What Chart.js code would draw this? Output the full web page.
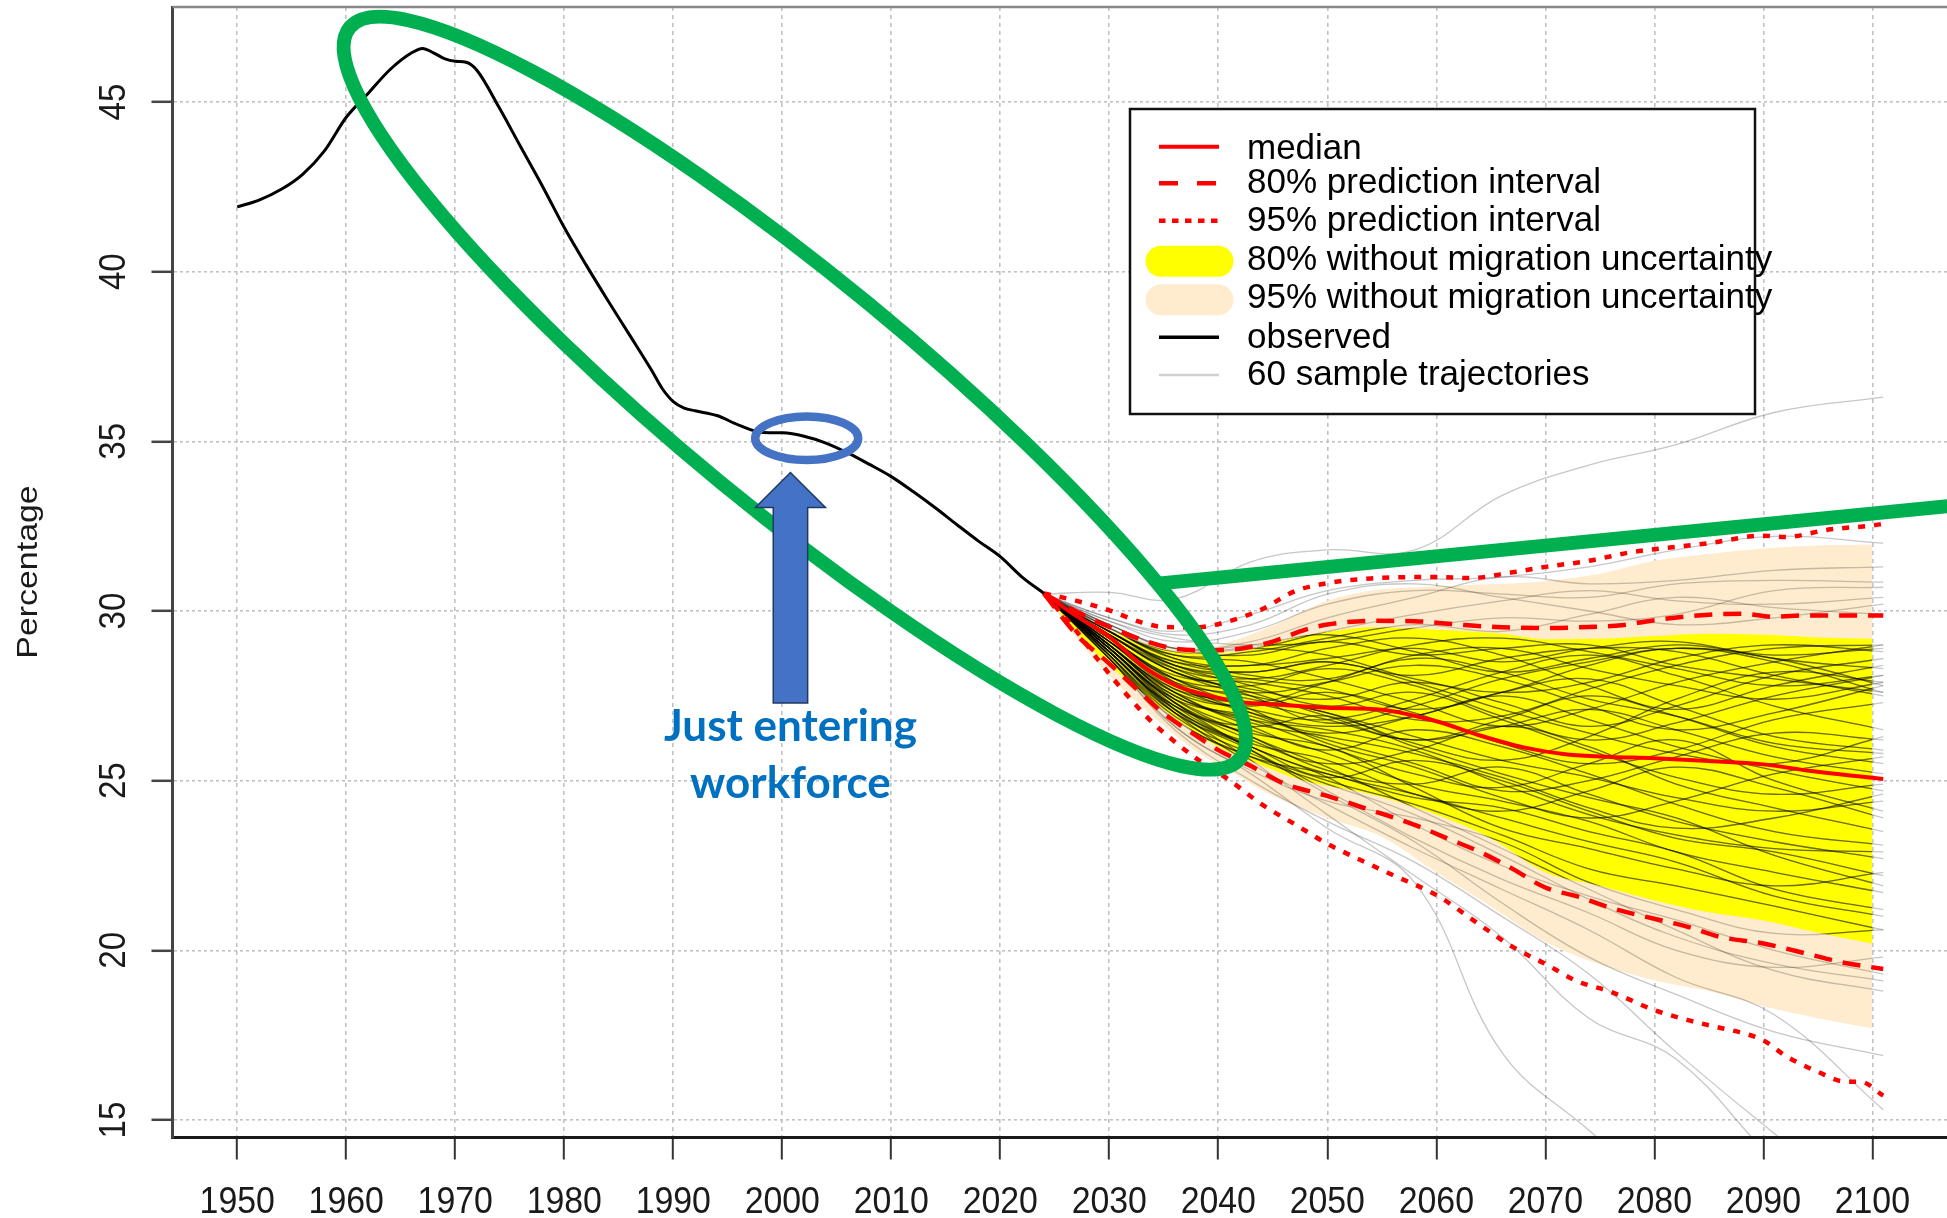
<!DOCTYPE html>
<html>
<head>
<meta charset="utf-8">
<title>Percentage just entering workforce</title>
<script src="https://cdn.jsdelivr.net/npm/chart.js@4.4.1/dist/chart.umd.min.js"></script>
<style>
  html, body { margin: 0; padding: 0; background: #fff; }
  #graphWorkforce { display: block; }
</style>
</head>
<body>
<canvas id="graphWorkforce" width="1947" height="1218"></canvas>
<script>
// ---- data ----
var xTicks = [1950,1960,1970,1980,1990,2000,2010,2020,2030,2040,2050,2060,2070,2080,2090,2100];
var yTicks = [15,20,25,30,35,40,45];

var obsYears  = [1950,1952,1954,1956,1958,1960,1962,1964,1966,1967,1968,1969,1970,1971,1972,1974,1976,1978,1980,1982,1984,1986,1988,1989,1990,1991,1992,1994,1996,1998,2000,2002,2004,2006,2008,2010,2012,2014,2016,2018,2020,2022,2024];
var obsValues = [41.91,42.11,42.42,42.87,43.56,44.55,45.25,45.95,46.45,46.58,46.45,46.28,46.2,46.17,45.93,44.85,43.68,42.52,41.3,40.2,39.15,38.13,37.1,36.55,36.17,35.98,35.9,35.76,35.48,35.27,35.25,35.15,34.95,34.66,34.32,33.96,33.52,33.05,32.55,32.06,31.6,31.0,30.52];

var medYears  = [2024,2027,2030,2033,2036,2038,2042,2046,2050,2055,2060,2064,2068,2072,2076,2080,2085,2090,2094,2098,2101];
var medValues = [30.52,29.85,29.24,28.4,27.82,27.6,27.32,27.23,27.15,27.09,26.75,26.33,25.98,25.77,25.7,25.66,25.58,25.48,25.3,25.15,25.05];

var pi80UpYears  = [2024,2027,2030,2033,2036,2039,2042,2045,2048,2050,2054,2058,2062,2066,2070,2074,2077,2080,2084,2088,2091,2094,2098,2101];
var pi80UpValues = [30.52,29.98,29.53,29.15,28.89,28.84,28.89,29.1,29.45,29.6,29.71,29.7,29.6,29.52,29.5,29.53,29.58,29.73,29.87,29.92,29.83,29.87,29.87,29.87];
var pi80LoYears  = [2024,2027,2030,2033,2035,2038,2040,2043,2046,2050,2054,2058,2061,2064,2067,2070,2073,2076,2080,2083,2086,2090,2094,2097,2101];
var pi80LoValues = [30.52,29.3,28.45,27.55,26.98,26.32,25.9,25.43,24.92,24.55,24.13,23.7,23.3,22.9,22.4,21.85,21.58,21.25,20.93,20.7,20.4,20.2,19.9,19.66,19.45];

var pi95UpYears  = [2024,2027,2030,2033,2035,2038,2041,2044,2047,2050,2054,2060,2063,2067,2070,2074,2078,2080,2085,2090,2092,2096,2100,2101];
var pi95UpValues = [30.52,30.3,30.02,29.66,29.53,29.52,29.7,30.05,30.58,30.82,30.96,31.0,30.97,31.14,31.3,31.48,31.74,31.82,32.0,32.22,32.18,32.4,32.52,32.57];
var pi95LoYears  = [2024,2027,2029,2031.5,2034,2036,2038,2041,2044,2047,2050,2053,2056,2060,2064,2067,2070,2073,2076,2080,2083,2086,2088,2090,2092,2095,2097.5,2099,2101];
var pi95LoValues = [30.52,29.4,28.55,27.57,26.7,26.15,25.65,25.02,24.3,23.72,23.14,22.67,22.22,21.63,20.75,20.1,19.6,19.08,18.78,18.24,17.95,17.72,17.57,17.35,16.9,16.42,16.13,16.12,15.72];

// "without migration uncertainty" bands
var wo80UpYears  = [2024,2028,2030,2033,2036,2039,2042,2044.5,2047.5,2050,2054,2060,2066,2070,2075,2080,2085,2090,2095,2100];
var wo80UpValues = [30.52,29.75,29.43,29.05,28.8,28.75,28.8,28.99,29.25,29.38,29.52,29.45,29.33,29.17,29.18,29.26,29.33,29.3,29.22,29.18];
var wo80LoYears  = [2024,2027,2030,2033,2036,2040,2044,2047.5,2050,2054,2060,2065,2070,2075,2080,2085,2090,2095,2100];
var wo80LoValues = [30.52,29.35,28.4,27.6,26.85,26.0,25.45,25.03,24.85,24.6,24.0,23.3,22.3,21.9,21.47,21.12,20.88,20.52,20.2];

var wo95UpYears  = [2024,2028,2032,2036,2039,2041.5,2044.5,2047.5,2050,2054,2060,2066,2070,2075,2080,2085,2090,2095,2100];
var wo95UpValues = [30.52,29.9,29.25,28.94,28.94,29.14,29.5,29.95,30.3,30.6,30.72,30.8,30.88,31.1,31.48,31.68,31.84,31.93,31.95];
var wo95LoYears  = [2024,2027,2030,2034,2038,2041,2044.5,2050,2055,2060,2065,2070,2075,2080,2085,2090,2095,2100];
var wo95LoValues = [30.52,29.2,28.1,26.9,25.85,25.3,24.63,23.9,23.35,22.3,21.3,20.25,19.58,19.12,18.8,18.35,18.0,17.7];

// 60 sample trajectories
var trajYears = [2024,2030,2036,2043,2050,2058,2066,2074,2082,2091,2101];
var trajectories = [
  [30.5,30.55,30.35,31.45,31.8,31.8,33.4,34.3,34.9,35.85,36.3],
  [30.5,29.8,29.4,29.9,30.6,30.9,31.0,31.3,31.8,32.2,32.0],
  [30.5,29.7,29.1,29.4,30.2,30.6,30.5,30.4,30.8,30.9,30.85],
  [30.5,29.6,28.9,28.9,29.4,29.9,30.3,30.6,30.3,30.2,30.4],
  [30.5,29.5,28.7,28.8,29.2,29.6,29.4,29.9,30.4,30.1,29.9],
  [30.5,29.8,29.3,29.6,30.5,30.8,30.4,30.0,29.6,29.8,30.2],
  [30.5,29.6,28.9,29.1,29.8,30.4,31.0,30.8,30.9,31.2,31.3],
  [30.5,29.7,29.2,29.0,29.1,29.5,29.8,29.7,29.9,30.6,30.7],
  [30.5,28.7,26.6,25.2,23.6,22.0,17.0,14.7,12.5,10.0,8.0],
  [30.5,28.9,27.1,25.6,24.0,22.2,20.4,18.0,16.8,13.8,11.0],
  [30.5,28.6,26.5,25.0,23.8,22.6,21.0,19.3,17.0,14.6,12.0],
  [30.5,28.8,27.0,25.5,24.3,23.0,21.8,20.6,19.2,18.1,15.3],
  [30.5,28.9,27.3,25.9,24.6,23.2,21.4,19.8,18.7,17.6,16.9],
  [30.5,28.7,26.8,25.7,24.9,24.0,22.8,21.5,20.4,19.6,19.1],
  [30.5,28.9,27.2,26.0,25.1,23.7,22.5,21.6,20.9,20.0,19.3],
  [30.5,28.8,27.0,25.9,24.7,23.3,22.1,21.1,20.0,19.5,19.8],
  [30.5,29.0,27.4,26.3,25.4,24.2,23.0,21.8,20.6,19.4,18.8],
  [30.5,28.6,26.6,25.3,24.4,23.9,23.2,22.0,21.2,20.5,20.6],
  [30.5,29.3,28.2,27.6,27.9,28.4,28.0,27.2,26.5,27.0,27.8],
  [30.5,29.0,27.5,26.8,26.0,25.2,24.8,25.5,26.2,25.0,24.1],
  [30.5,29.6,28.9,29.0,29.3,28.8,28.2,28.6,29.0,28.7,28.9],
  [30.5,28.8,27.1,26.0,25.2,24.6,23.9,23.2,22.6,21.6,21.0],
  [30.5,29.2,28.0,27.4,27.0,26.1,25.6,26.3,27.4,28.2,27.9],
  [30.5,29.5,28.6,28.4,28.9,29.2,28.7,27.8,27.1,27.8,28.4],
  [30.5,28.9,27.3,26.2,25.5,25.9,26.6,26.0,24.9,24.2,23.5],
  [30.5,29.1,27.7,27.1,26.8,27.4,28.2,28.7,28.1,27.2,26.5],
  [30.5,29.4,28.5,28.2,28.5,27.9,27.1,26.4,25.8,25.5,26.3],
  [30.5,28.7,26.9,25.8,25.0,24.3,23.4,22.4,21.9,21.3,20.6],
  [30.5,29.3,28.3,28.0,28.4,29.0,29.2,28.8,28.3,27.8,28.1],
  [30.5,29.0,27.6,26.7,26.3,25.8,25.1,24.2,23.6,23.9,24.6],
  [30.5,29.5,28.8,28.9,28.7,28.0,27.6,27.9,28.6,29.0,28.8],
  [30.5,28.8,27.2,26.4,26.0,24.8,23.6,23.0,22.4,21.9,22.3],
  [30.5,29.2,28.1,27.9,27.5,26.8,26.9,27.7,28.4,28.9,29.0],
  [30.5,29.4,28.4,27.8,27.2,27.6,26.8,25.9,25.1,24.6,24.9],
  [30.5,28.9,27.4,26.5,25.8,24.9,24.4,23.8,22.9,22.3,21.7],
  [30.5,29.1,27.8,27.3,27.9,28.6,28.2,27.4,26.9,26.1,25.8],
  [30.5,29.6,28.9,28.7,29.1,28.7,28.9,29.0,28.4,28.0,27.6],
  [30.5,28.7,27.0,26.0,25.1,25.6,25.0,24.1,23.3,22.9,22.2],
  [30.5,29.3,28.2,27.6,26.9,26.2,26.8,27.5,26.9,26.0,25.5],
  [30.5,29.0,27.6,27.2,27.6,27.0,26.1,25.5,25.9,26.8,27.3],
  [30.5,29.4,28.5,28.4,28.6,28.9,28.5,28.9,29.1,28.6,28.3],
  [30.5,29.2,27.9,27.0,26.4,26.9,27.6,28.0,27.2,26.3,25.9],
  [30.5,28.8,27.1,26.1,25.6,24.6,24.1,24.7,25.4,24.8,23.9],
  [30.5,29.5,28.6,28.1,28.0,28.7,28.9,28.3,27.8,27.4,27.9],
  [30.5,29.0,27.5,26.8,26.5,25.9,24.9,24.0,23.4,23.0,22.9],
  [30.5,29.3,28.2,27.7,27.4,27.9,27.3,26.6,27.2,28.1,28.6],
  [30.5,28.6,26.8,25.7,25.2,24.5,24.2,23.5,22.9,21.8,21.2],
  [30.5,29.1,27.9,27.5,27.0,26.3,25.6,25.1,24.5,24.1,24.4],
  [30.5,29.4,28.4,28.0,27.7,27.1,27.6,28.4,28.9,28.5,27.6],
  [30.5,28.9,27.3,26.3,25.3,24.9,25.4,24.6,23.8,23.2,22.7],
  [30.5,29.2,28.0,27.8,28.3,27.8,26.9,26.2,26.7,27.5,28.1],
  [30.5,29.0,27.7,27.3,26.8,26.2,26.6,27.1,26.5,25.7,25.2],
  [30.5,29.2,28.0,27.1,26.1,25.4,24.5,23.9,24.4,25.2,25.7],
  [30.5,28.8,27.2,26.6,26.9,26.0,25.2,24.5,23.9,22.8,21.9],
  [30.5,29.4,28.4,28.2,28.5,28.1,28.6,28.9,28.8,28.1,27.5],
  [30.5,29.1,27.8,27.0,26.6,26.9,27.5,26.8,26.0,25.3,24.7],
  [30.5,28.9,27.4,26.9,26.2,25.5,24.7,25.0,25.7,26.4,26.2],
  [30.5,29.3,28.3,27.5,26.7,27.2,28.0,28.5,28.9,28.6,27.8],
  [30.5,29.0,27.6,26.6,25.9,26.5,26.0,25.2,24.3,23.5,23.1],
  [30.5,29.5,28.7,28.5,28.0,27.3,26.6,27.1,27.9,28.5,29.0]
];

var legendLabels = ['median','80% prediction interval','95% prediction interval',
  '80% without migration uncertainty','95% without migration uncertainty','observed','60 sample trajectories'];

// ---- styles ----
var RED = '#ff0000', YELLOW = '#ffff00', BISQUE = '#ffebcd', GREEN = '#00b050', BLUE = '#4472c4';
var DASH80 = [18, 11], DOT95 = [7, 9];

function pts(xs, ys) {
  return xs.map(function(x, i){ return {x: x, y: ys[i]}; });
}

var datasets = [];
datasets.push({label:'observed', data: pts(obsYears, obsValues), borderColor:'#000', borderWidth:3,
  pointRadius:0, cubicInterpolationMode:'monotone', order:0});
datasets.push({label:'median', data: pts(medYears, medValues), borderColor:RED, borderWidth:4,
  pointRadius:0, cubicInterpolationMode:'monotone', order:1});
datasets.push({label:'80 up', data: pts(pi80UpYears, pi80UpValues), borderColor:RED, borderWidth:4.5, borderDash:DASH80,
  pointRadius:0, cubicInterpolationMode:'monotone', order:2});
datasets.push({label:'80 lo', data: pts(pi80LoYears, pi80LoValues), borderColor:RED, borderWidth:4.5, borderDash:DASH80,
  pointRadius:0, cubicInterpolationMode:'monotone', order:2});
datasets.push({label:'95 up', data: pts(pi95UpYears, pi95UpValues), borderColor:RED, borderWidth:4.5, borderDash:DOT95,
  pointRadius:0, cubicInterpolationMode:'monotone', order:3});
datasets.push({label:'95 lo', data: pts(pi95LoYears, pi95LoValues), borderColor:RED, borderWidth:4.5, borderDash:DOT95,
  pointRadius:0, cubicInterpolationMode:'monotone', order:3});

// trajectories: darker copy only inside the yellow band, light copy everywhere
trajectories.forEach(function(vals){
  datasets.push({data: pts(trajYears, vals), borderColor:'rgba(0,0,0,0.45)', borderWidth:1.3,
    tension:0.4, pointRadius:0, order:5, clipYellow:true});
});
trajectories.forEach(function(vals){
  datasets.push({data: pts(trajYears, vals), borderColor:'rgba(30,30,30,0.25)', borderWidth:1.3,
    tension:0.4, pointRadius:0, order:6});
});

var yellowUpIndex = datasets.length;
datasets.push({data: pts(wo80UpYears, wo80UpValues), borderColor:'rgba(0,0,0,0)', borderWidth:0,
  backgroundColor:YELLOW, fill:'+1', pointRadius:0, cubicInterpolationMode:'monotone', order:7});
var yellowLoIndex = datasets.length;
datasets.push({data: pts(wo80LoYears, wo80LoValues), borderColor:'rgba(0,0,0,0)', borderWidth:0,
  fill:false, pointRadius:0, cubicInterpolationMode:'monotone', order:7});
datasets.push({data: pts(wo95UpYears, wo95UpValues), borderColor:'rgba(0,0,0,0)', borderWidth:0,
  backgroundColor:BISQUE, fill:'+1', pointRadius:0, cubicInterpolationMode:'monotone', order:8});
datasets.push({data: pts(wo95LoYears, wo95LoValues), borderColor:'rgba(0,0,0,0)', borderWidth:0,
  fill:false, pointRadius:0, cubicInterpolationMode:'monotone', order:8});

// clip the dark trajectory copies to the yellow band
var yellowClip = {
  id: 'yellowClip',
  beforeDatasetDraw: function(chart, args){
    if (!chart.data.datasets[args.index].clipYellow) return;
    var up = chart.getDatasetMeta(yellowUpIndex).dataset;
    var lo = chart.getDatasetMeta(yellowLoIndex).dataset;
    var ctx = chart.ctx;
    up.updateControlPoints(chart.chartArea, 'x');
    lo.updateControlPoints(chart.chartArea, 'x');
    ctx.save();
    ctx.beginPath();
    up.pathSegment(ctx, up.segments[0], {move:true});
    lo.pathSegment(ctx, lo.segments[0], {move:false, reverse:true});
    ctx.closePath();
    ctx.clip();
  },
  afterDatasetDraw: function(chart, args){
    if (chart.data.datasets[args.index].clipYellow) chart.ctx.restore();
  }
};

function stretchText(ctx, text, x, y, rot, sx, align){
  ctx.save();
  ctx.translate(x, y);
  ctx.rotate(rot);
  ctx.scale(sx, 1);
  ctx.textAlign = align || 'center';
  ctx.textBaseline = 'alphabetic';
  ctx.fillText(text, 0, 0);
  ctx.restore();
}

var overlay = {
  id: 'overlay',
  afterDraw: function(chart){
    var ctx = chart.ctx, xs = chart.scales.x, ys = chart.scales.y, a = chart.chartArea;

    // top frame line
    ctx.save();
    ctx.strokeStyle = '#888'; ctx.lineWidth = 2.5;
    ctx.beginPath(); ctx.moveTo(a.left, a.top); ctx.lineTo(a.right, a.top); ctx.stroke();
    ctx.restore();

    // axis labels
    ctx.save();
    ctx.fillStyle = '#1a1a1a';
    ctx.font = '36px "Liberation Sans", Arial, sans-serif';
    xTicks.forEach(function(v){ stretchText(ctx, String(v), xs.getPixelForValue(v), 1213, 0, 0.94); });
    yTicks.forEach(function(v){ stretchText(ctx, String(v), 124.5, ys.getPixelForValue(v), -Math.PI/2, 0.92); });
    ctx.font = '30px "Liberation Sans", Arial, sans-serif';
    stretchText(ctx, 'Percentage', 37, 572, -Math.PI/2, 1.13);
    ctx.restore();

    // legend
    var bx = 1130, by = 109, bw = 625, bh = 305;
    var symY = [146.7, 183.3, 220.7, 261.3, 299.7, 337.3, 375];
    var txtY = [159.3, 193.3, 230.7, 270, 308.3, 348.3, 385];
    ctx.save();
    ctx.fillStyle = '#fff';
    ctx.fillRect(bx, by, bw, bh);
    ctx.strokeStyle = '#111'; ctx.lineWidth = 2.5;
    ctx.strokeRect(bx, by, bw, bh);
    function seg(y, color, width, dash, cap){
      ctx.save();
      ctx.strokeStyle = color; ctx.lineWidth = width; ctx.setLineDash(dash || []);
      ctx.lineCap = cap || 'butt';
      ctx.beginPath(); ctx.moveTo(1159, y); ctx.lineTo(1219, y); ctx.stroke();
      ctx.restore();
    }
    seg(symY[0], RED, 4);
    seg(symY[1], RED, 4.5, [19, 19]);
    seg(symY[2], RED, 4.5, [6.5, 6.5]);
    ctx.save(); ctx.strokeStyle = YELLOW; ctx.lineWidth = 31; ctx.lineCap = 'round';
    ctx.beginPath(); ctx.moveTo(1161, symY[3]); ctx.lineTo(1218, symY[3]); ctx.stroke(); ctx.restore();
    ctx.save(); ctx.strokeStyle = BISQUE; ctx.lineWidth = 31; ctx.lineCap = 'round';
    ctx.beginPath(); ctx.moveTo(1161, symY[4]); ctx.lineTo(1218, symY[4]); ctx.stroke(); ctx.restore();
    seg(symY[5], '#000', 3.5);
    seg(symY[6], '#d0d0d0', 2.5);
    ctx.fillStyle = '#000';
    ctx.font = '35px "Liberation Sans", Arial, sans-serif';
    ctx.textAlign = 'left'; ctx.textBaseline = 'alphabetic';
    legendLabels.forEach(function(t, i){ ctx.fillText(t, 1247, txtY[i]); });
    ctx.restore();

    // annotations: green ring and pointer line
    ctx.save();
    ctx.strokeStyle = GREEN; ctx.lineWidth = 14;
    ctx.beginPath();
    ctx.ellipse(xs.getPixelForValue(2001.15), ys.getPixelForValue(36.42), 576, 116, 39.4 * Math.PI / 180, 0, 2 * Math.PI);
    ctx.stroke();
    ctx.lineCap = 'butt';
    ctx.beginPath();
    ctx.moveTo(xs.getPixelForValue(2034.2), ys.getPixelForValue(30.80));
    ctx.lineTo(xs.getPixelForValue(2107.3), ys.getPixelForValue(33.10));
    ctx.stroke();
    ctx.restore();

    // blue ring, arrow, text
    var ax = xs.getPixelForValue(2000.75);
    var tipY = ys.getPixelForValue(34.08), headY = ys.getPixelForValue(33.05), baseY = ys.getPixelForValue(27.29);
    ctx.save();
    ctx.strokeStyle = BLUE; ctx.lineWidth = 8.5;
    ctx.beginPath();
    ctx.ellipse(xs.getPixelForValue(2002.24), ys.getPixelForValue(35.09), 51.5, 21.8, 0, 0, 2 * Math.PI);
    ctx.stroke();
    ctx.beginPath();
    ctx.moveTo(ax, tipY);
    ctx.lineTo(ax + 35, headY);
    ctx.lineTo(ax + 17.2, headY);
    ctx.lineTo(ax + 17.2, baseY);
    ctx.lineTo(ax - 17.2, baseY);
    ctx.lineTo(ax - 17.2, headY);
    ctx.lineTo(ax - 35, headY);
    ctx.closePath();
    ctx.fillStyle = BLUE; ctx.fill();
    ctx.strokeStyle = '#1f3864'; ctx.lineWidth = 1.5; ctx.stroke();
    ctx.fillStyle = '#0070c0';
    ctx.font = 'bold 44px Lato, "Open Sans", sans-serif';
    ctx.textAlign = 'center'; ctx.textBaseline = 'alphabetic';
    ctx.fillText('Just entering', ax, ys.getPixelForValue(26.17));
    ctx.fillText('workforce', ax, ys.getPixelForValue(24.49));
    ctx.restore();
  }
};

var graphWorkforce = new Chart('graphWorkforce', {
  type: 'line',
  data: { datasets: datasets },
  options: {
    responsive: false,
    animation: false,
    devicePixelRatio: 1,
    events: [],
    layout: { padding: { top: 7, right: 0, bottom: 0, left: 0 } },
    plugins: { legend: { display: false }, tooltip: { enabled: false } },
    scales: {
      x: {
        type: 'linear', min: 1944.06, max: 2106.85,
        afterBuildTicks: function(s){ s.ticks = xTicks.map(function(v){ return {value: v}; }); },
        afterFit: function(s){ s.height = 80.5; },
        ticks: { display: false },
        grid: { color: '#c2c2c2', lineWidth: 1.6, tickLength: 22, tickColor: '#333', tickWidth: 2, tickBorderDash: [] },
        border: { color: '#1a1a1a', width: 3, dash: [4, 4] }
      },
      y: {
        type: 'linear', min: 14.484, max: 47.80,
        afterBuildTicks: function(s){ s.ticks = yTicks.map(function(v){ return {value: v}; }); },
        afterFit: function(s){ s.width = 172.5; },
        ticks: { display: false },
        grid: { color: '#c2c2c2', lineWidth: 1.6, tickLength: 21, tickColor: '#444', tickWidth: 2.5, tickBorderDash: [] },
        border: { color: '#444', width: 3, dash: [3, 3] }
      }
    }
  },
  plugins: [yellowClip, overlay]
});
</script>
</body>
</html>
